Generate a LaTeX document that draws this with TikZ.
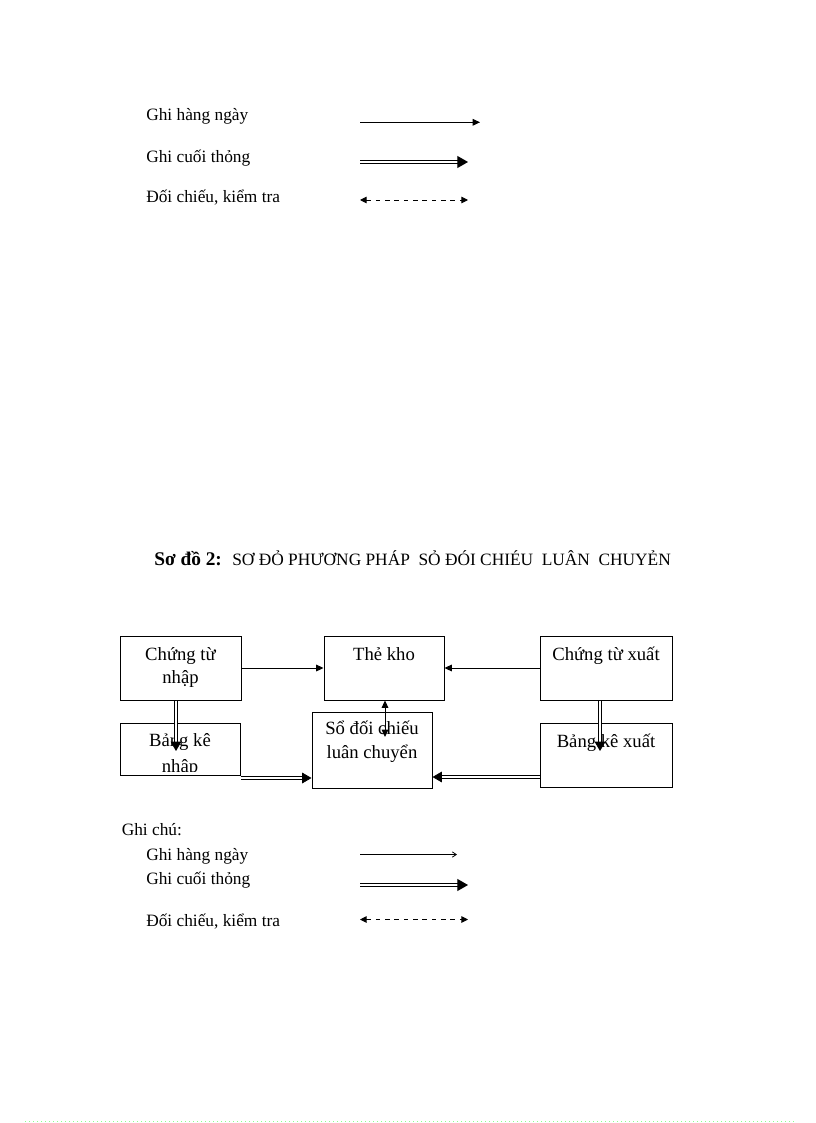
\documentclass[tikz,border=0pt]{standalone}
\usepackage{fontspec}
\setmainfont{Liberation Serif}
\usetikzlibrary{arrows.meta,fit}
\begin{document}
\begin{tikzpicture}[x=0.75pt,y=-0.75pt,
  box/.style={draw, line width=0.75pt, inner sep=0pt, rectangle},
  lbl/.style={anchor=base west, inner sep=0pt, font=\fontsize{13}{15}\selectfont},
  btxt/.style={anchor=base, inner sep=0pt, font=\fontsize{14}{16}\selectfont},
  thinarr/.style={line width=0.75pt, -{Triangle[length=5.5pt,width=5pt]}},
  thinboth/.style={line width=0.75pt, {Triangle[length=5.5pt,width=5pt]}-{Triangle[length=5.5pt,width=5pt]}},
  openarr/.style={line width=0.6pt, -{Straight Barb[length=3pt,width=4pt]}},
  dblarr/.style={double, double distance=1.3pt, line width=0.6pt, -{Triangle[length=7pt,width=8pt]}},
  dbllegend/.style={double, double distance=1.6pt, line width=0.7pt, -{Triangle[length=8pt,width=9pt]}},
  chkarr/.style={line width=0.7pt, dash pattern=on 3.5pt off 3.5pt, {Triangle[length=5pt,width=5pt]}-{Triangle[length=5pt,width=5pt]}},
]
\useasboundingbox (0,0) rectangle (816,1123);

% ---- top legend ----
\node[lbl] (l1) at (146,120.5) {Ghi hàng ngày};
\node[lbl] (l2) at (146,163) {Ghi cuối thỏng};
\node[lbl] (l3) at (146,202.5) {Đối chiếu, kiểm tra};
\coordinate (a1s) at (360,122.3); \coordinate (a1e) at (480,122.3);
\coordinate (a2s) at (360,162); \coordinate (a2e) at (468,162);
\coordinate (a3s) at (360,200); \coordinate (a3e) at (468,200);
\draw[thinarr] (a1s) -- (a1e);
\draw[dbllegend] (a2s) -- (a2e);
\draw[chkarr] (a3s) -- (a3e);

% ---- title ----
\node[anchor=base west, inner sep=0pt, font=\bfseries\fontsize{14.5}{16}\selectfont] (t1) at (154,565) {Sơ đồ 2:};
\node[anchor=base west, inner sep=0pt, font=\fontsize{13}{15}\selectfont] (t2) at (232,565) {SƠ ĐỎ PHƯƠNG PHÁP\ \ SỎ ĐÓI CHIÉU\ \ LUÂN\ \ CHUYẺN};

% ---- boxes ----
\node[box, fit={(120,636) (241,700)}] (ctn) {};
\node[box, fit={(324,636) (444,700)}] (tk) {};
\node[box, fit={(540,636) (672,700)}] (ctx) {};
\node[box, fit={(120,723) (240,775)}] (bkn) {};
\node[box, fit={(312,712) (432,788)}] (so) {};
\node[box, fit={(540,723) (672,787)}] (bkx) {};

\node[btxt] (ctnA) at (180.5,660.7) {Chứng từ};
\node[btxt] (ctnB) at (180.5,683.5) {nhập};
\node[btxt] (tkA) at (384,660.5) {Thẻ kho};
\node[btxt] (ctxA) at (606,660.5) {Chứng từ xuất};
\node[btxt] (bknA) at (180,746) {Bảng kê};
\begin{scope}
  \clip (120,723) rectangle (240,771);
  \node[btxt] (bknB) at (180,772) {nhập};
\end{scope}
\node[btxt] (soA) at (372,734) {Sổ đối chiếu};
\node[btxt] (soB) at (372,758) {luân chuyển};
\node[btxt] (bkxA) at (606,747) {Bảng kê xuất};

% ---- connectors ----
\draw[thinarr] (ctn.east) -- (tk.west);
\draw[thinarr] (ctx.west) -- (tk.east);
\coordinate (vA) at (176,751);
\draw[dblarr] (ctn.south -| vA) -- (vA);
\coordinate (vB) at (600,751);
\draw[dblarr] (ctx.south -| vB) -- (vB);
\coordinate (hA) at (240,778);
\draw[dblarr] (bkn.east |- hA) -- (so.west |- hA);
\coordinate (hB) at (540,777);
\draw[dblarr] (bkx.west |- hB) -- (so.east |- hB);
\coordinate (vC) at (385,737);
\draw[thinboth] (tk.south -| vC) -- (vC);

% ---- bottom legend ----
\node[lbl] (g0) at (121.5,835) {Ghi chú:};
\node[lbl] (g1) at (146,860) {Ghi hàng ngày};
\node[lbl] (g2) at (146,884) {Ghi cuối thỏng};
\node[lbl] (g3) at (146,926.5) {Đối chiếu, kiểm tra};
\coordinate (b1s) at (360,854.5); \coordinate (b1e) at (457,854.5);
\coordinate (b2s) at (360,885); \coordinate (b2e) at (468,885);
\coordinate (b3s) at (360,919.5); \coordinate (b3e) at (468,919.5);
\draw[openarr] (b1s) -- (b1e);
\draw[dbllegend] (b2s) -- (b2e);
\draw[chkarr] (b3s) -- (b3e);

% ---- page edge dotted line ----
\coordinate (e1) at (25,1121); \coordinate (e2) at (795,1121);
\draw[green!45!white, line width=0.5pt, dash pattern=on 1pt off 2pt] (e1) -- (e2);
\end{tikzpicture}
\end{document}
